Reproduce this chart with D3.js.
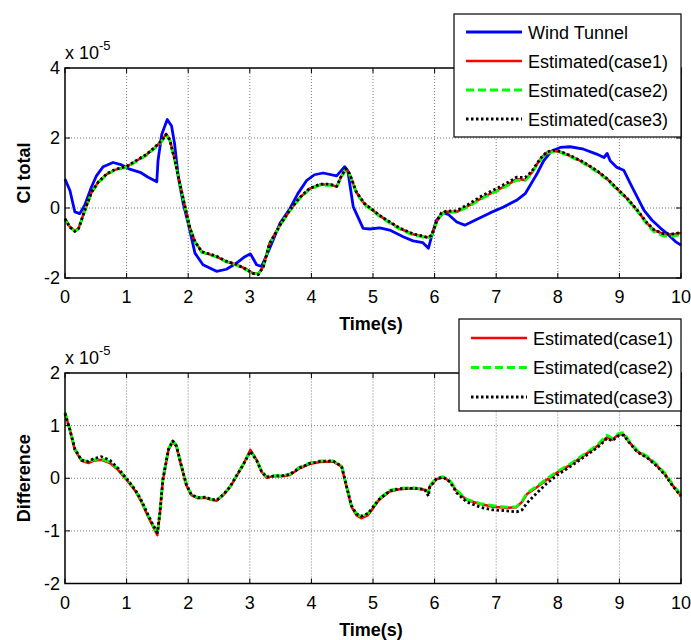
<!DOCTYPE html>
<html>
<head>
<meta charset="utf-8">
<script src="https://cdn.jsdelivr.net/npm/d3@7"></script>
<style>
body { margin: 0; background: #fff; }
text { font-family: "Liberation Sans", Arial, sans-serif; fill: #000; }
</style>
</head>
<body>
<svg id="chart" width="691" height="640"></svg>
<script>
// ---- data (values in units of 1e-5) ----
var xTicks = [0, 1, 2, 3, 4, 5, 6, 7, 8, 9, 10];
var topYTicks = [-2, 0, 2, 4];
var bottomYTicks = [-2, -1, 0, 1, 2];

var topLegendLabels = ["Wind Tunnel", "Estimated(case1)", "Estimated(case2)", "Estimated(case3)"];
var bottomLegendLabels = ["Estimated(case1)", "Estimated(case2)", "Estimated(case3)"];

var windTime = [0,0.08,0.16,0.24,0.32,0.43,0.51,0.62,0.78,0.92,1.05,1.22,1.35,1.49,1.51,1.57,1.66,1.73,1.78,1.84,
  1.92,2.0,2.11,2.24,2.46,2.62,2.78,2.92,3.01,3.11,3.19,3.3,3.49,3.65,3.78,3.92,4.05,4.19,4.41,4.54,
  4.59,4.68,4.84,4.95,5.11,5.27,5.49,5.65,5.81,5.9,5.95,6.03,6.14,6.22,6.36,6.49,6.68,6.9,7.12,7.33,
  7.47,7.55,7.66,7.77,7.9,8.04,8.2,8.42,8.63,8.75,8.8,8.85,8.96,9.07,9.18,9.29,9.4,9.53,9.67,9.8,9.91,10];
var windTunnel = [0.83,0.5,-0.11,-0.16,0.08,0.6,0.92,1.18,1.3,1.23,1.11,1.02,0.88,0.75,1.35,2.1,2.53,2.34,1.82,0.88,
  0.12,-0.44,-1.29,-1.62,-1.81,-1.75,-1.58,-1.39,-1.31,-1.62,-1.67,-1.25,-0.44,-0.02,0.41,0.78,0.95,1.0,0.92,1.18,
  1.07,0.03,-0.58,-0.6,-0.57,-0.63,-0.82,-0.94,-0.99,-1.15,-0.82,-0.35,-0.14,-0.18,-0.4,-0.49,-0.33,-0.14,0.03,0.22,
  0.41,0.64,0.97,1.35,1.63,1.73,1.75,1.68,1.54,1.44,1.56,1.35,1.16,1.08,0.69,0.31,-0.07,-0.35,-0.58,-0.77,-0.96,-1.06];

var estTime = [0,0.08,0.16,0.22,0.32,0.43,0.54,0.68,0.81,1.0,1.16,1.32,1.46,1.57,1.64,1.7,1.78,1.86,1.95,2.03,
  2.11,2.22,2.32,2.46,2.62,2.78,2.95,3.05,3.14,3.22,3.32,3.49,3.65,3.81,3.97,4.14,4.3,4.41,4.49,4.56,
  4.62,4.73,4.86,5.0,5.1,5.22,5.43,5.65,5.87,5.95,6.03,6.11,6.19,6.36,6.57,6.79,7.01,7.23,7.33,7.47,
  7.58,7.66,7.74,7.82,7.93,8.04,8.2,8.42,8.64,8.8,8.96,9.13,9.29,9.45,9.56,9.72,9.89,10];
var estCase1 = [-0.3,-0.54,-0.65,-0.58,-0.07,0.45,0.74,0.97,1.09,1.18,1.35,1.52,1.73,1.92,2.12,1.96,1.4,0.74,0.03,-0.58,
  -0.96,-1.25,-1.31,-1.39,-1.53,-1.62,-1.75,-1.86,-1.88,-1.67,-1.01,-0.49,-0.07,0.29,0.55,0.67,0.67,0.61,0.92,1.11,
  0.97,0.45,0.12,-0.07,-0.21,-0.35,-0.58,-0.75,-0.84,-0.8,-0.4,-0.16,-0.11,-0.11,0.08,0.31,0.5,0.71,0.83,0.8,
  1.02,1.25,1.44,1.58,1.63,1.61,1.49,1.3,1.05,0.83,0.55,0.26,-0.07,-0.44,-0.63,-0.75,-0.75,-0.71];
var estCase2 = [-0.32,-0.56,-0.66,-0.6,-0.09,0.43,0.72,0.96,1.08,1.17,1.33,1.5,1.71,1.9,2.08,1.94,1.38,0.72,0.01,-0.6,
  -0.97,-1.26,-1.32,-1.4,-1.54,-1.63,-1.77,-1.87,-1.88,-1.68,-1.03,-0.5,-0.08,0.27,0.53,0.65,0.65,0.6,0.9,1.09,
  0.95,0.43,0.1,-0.09,-0.23,-0.37,-0.6,-0.77,-0.86,-0.82,-0.42,-0.18,-0.13,-0.12,0.06,0.29,0.48,0.69,0.8,0.78,
  1.0,1.23,1.42,1.56,1.61,1.59,1.47,1.28,1.03,0.81,0.53,0.24,-0.09,-0.47,-0.68,-0.8,-0.8,-0.76];
var estCase3 = [-0.31,-0.55,-0.67,-0.59,-0.07,0.45,0.74,0.98,1.1,1.19,1.36,1.53,1.74,1.93,2.1,1.95,1.39,0.73,0.02,-0.59,
  -0.96,-1.25,-1.3,-1.38,-1.52,-1.61,-1.76,-1.87,-1.9,-1.68,-1.02,-0.49,-0.06,0.3,0.56,0.68,0.68,0.62,0.93,1.12,
  0.98,0.46,0.13,-0.06,-0.2,-0.34,-0.57,-0.74,-0.83,-0.79,-0.39,-0.14,-0.09,-0.08,0.13,0.37,0.56,0.77,0.88,0.87,
  1.05,1.27,1.46,1.6,1.65,1.62,1.5,1.31,1.06,0.84,0.56,0.27,-0.06,-0.43,-0.62,-0.74,-0.74,-0.7];

var diffTime = [0,0.08,0.16,0.27,0.38,0.46,0.59,0.73,0.86,1.0,1.14,1.24,1.35,1.43,1.5,1.54,1.59,1.68,1.75,1.81,
  1.89,1.97,2.05,2.16,2.27,2.38,2.46,2.57,2.68,2.78,2.89,3.01,3.11,3.19,3.27,3.38,3.54,3.65,3.81,3.97,
  4.14,4.35,4.49,4.57,4.65,4.73,4.81,4.92,5.1,5.27,5.43,5.65,5.84,5.9,5.92,6.03,6.14,6.25,6.36,6.52,
  6.74,6.95,7.17,7.33,7.42,7.5,7.66,7.82,7.99,8.2,8.42,8.64,8.8,8.88,8.99,9.07,9.15,9.29,9.45,9.61,
  9.75,9.86,10];
var diffCase1 = [1.24,0.92,0.54,0.33,0.29,0.33,0.35,0.29,0.16,-0.03,-0.24,-0.45,-0.73,-0.92,-1.08,-0.67,-0.03,0.54,0.7,0.6,
  0.22,-0.13,-0.32,-0.38,-0.37,-0.41,-0.43,-0.32,-0.17,0.03,0.25,0.54,0.35,0.13,0.01,0.04,0.04,0.06,0.19,0.27,
  0.31,0.32,0.22,-0.16,-0.54,-0.7,-0.76,-0.7,-0.41,-0.25,-0.21,-0.19,-0.22,-0.26,-0.16,-0.02,0.02,-0.06,-0.25,-0.41,
  -0.49,-0.54,-0.56,-0.55,-0.45,-0.3,-0.17,-0.03,0.11,0.25,0.43,0.61,0.78,0.73,0.83,0.83,0.7,0.51,0.4,0.24,
  0.06,-0.13,-0.33];
var diffCase2 = [1.25,0.93,0.56,0.35,0.31,0.35,0.37,0.31,0.18,-0.01,-0.22,-0.43,-0.71,-0.9,-1.05,-0.65,-0.01,0.56,0.72,0.62,
  0.24,-0.11,-0.31,-0.37,-0.36,-0.4,-0.42,-0.31,-0.16,0.04,0.26,0.52,0.35,0.14,0.03,0.05,0.05,0.08,0.21,0.29,
  0.33,0.33,0.23,-0.14,-0.51,-0.67,-0.73,-0.67,-0.39,-0.23,-0.19,-0.18,-0.21,-0.27,-0.14,0.0,0.03,-0.05,-0.23,-0.4,
  -0.48,-0.52,-0.55,-0.54,-0.43,-0.28,-0.15,-0.01,0.13,0.27,0.45,0.63,0.82,0.76,0.85,0.87,0.72,0.53,0.42,0.26,
  0.08,-0.11,-0.31];
var diffCase3 = [1.23,0.92,0.55,0.34,0.32,0.37,0.41,0.34,0.19,-0.01,-0.22,-0.42,-0.7,-0.89,-1.03,-0.66,-0.02,0.55,0.71,0.61,
  0.23,-0.12,-0.31,-0.37,-0.36,-0.4,-0.42,-0.31,-0.16,0.04,0.25,0.51,0.34,0.13,0.02,0.04,0.05,0.07,0.2,0.28,
  0.32,0.33,0.23,-0.15,-0.52,-0.68,-0.72,-0.67,-0.4,-0.24,-0.2,-0.19,-0.21,-0.34,-0.17,-0.01,0.02,-0.07,-0.28,-0.45,
  -0.55,-0.6,-0.62,-0.64,-0.6,-0.47,-0.28,-0.1,0.06,0.22,0.4,0.58,0.76,0.71,0.81,0.82,0.69,0.5,0.39,0.23,
  0.05,-0.14,-0.34];

// ---- drawing ----
var svg = d3.select("#chart");

function zip(ts, vs)
{
	return ts.map(function(t, i) { return [t, vs[i]]; });
}

function seriesStyle(sel, kind)
{
	if (kind === "wind")
		sel.attr("stroke", "#0000ff").attr("stroke-width", 2.8);
	else if (kind === "case1")
		sel.attr("stroke", "#ff0000").attr("stroke-width", 2.5);
	else if (kind === "case2")
		sel.attr("stroke", "#00ff00").attr("stroke-width", 2.8).attr("stroke-dasharray", "8,4");
	else
		sel.attr("stroke", "#000000").attr("stroke-width", 2.8).attr("stroke-dasharray", "2.5,2.5");
	return sel;
}

function drawPanel(opt)
{
	var x = d3.scaleLinear().domain([0, 10]).range([65, 681]);
	var y = d3.scaleLinear().domain(opt.yDomain).range(opt.yRange);
	var g = svg.append("g");

	var x0 = x.range()[0], x1 = x.range()[1];
	var yb = y.range()[0], yt = y.range()[1];

	// grid
	g.append("g").selectAll("line")
	.data(xTicks.slice(1, -1))
	.enter().append("line")
	.attr("x1", function(d) { return x(d); })
	.attr("x2", function(d) { return x(d); })
	.attr("y1", yb).attr("y2", yt)
	.attr("stroke", "#7a7a7a").attr("stroke-width", 1)
	.attr("stroke-dasharray", "1,2");

	g.append("g").selectAll("line")
	.data(opt.yTicks.slice(1, -1))
	.enter().append("line")
	.attr("x1", x0).attr("x2", x1)
	.attr("y1", function(d) { return y(d); })
	.attr("y2", function(d) { return y(d); })
	.attr("stroke", "#7a7a7a").attr("stroke-width", 1)
	.attr("stroke-dasharray", "1,2");

	// series
	var line = d3.line()
	.x(function(d) { return x(d[0]); })
	.y(function(d) { return y(d[1]); });

	opt.series.forEach(function(s)
	{
		var p = g.append("path")
		.datum(s.points)
		.attr("fill", "none")
		.attr("stroke-linejoin", "round")
		.attr("d", line);
		seriesStyle(p, s.kind);
	});

	// box + inner ticks
	g.append("rect")
	.attr("x", x0).attr("y", yt)
	.attr("width", x1 - x0).attr("height", yb - yt)
	.attr("fill", "none").attr("stroke", "#000").attr("stroke-width", 1.5);

	var ticks = g.append("g").attr("stroke", "#000").attr("stroke-width", 1);
	xTicks.forEach(function(d)
	{
		ticks.append("line").attr("x1", x(d)).attr("x2", x(d)).attr("y1", yb).attr("y2", yb - 5);
		ticks.append("line").attr("x1", x(d)).attr("x2", x(d)).attr("y1", yt).attr("y2", yt + 5);
	});
	opt.yTicks.forEach(function(d)
	{
		ticks.append("line").attr("x1", x0).attr("x2", x0 + 5).attr("y1", y(d)).attr("y2", y(d));
		ticks.append("line").attr("x1", x1).attr("x2", x1 - 5).attr("y1", y(d)).attr("y2", y(d));
	});

	// tick labels
	g.selectAll("text.xt")
	.data(xTicks)
	.enter().append("text")
	.attr("x", function(d) { return x(d); })
	.attr("y", yb + 25)
	.attr("text-anchor", "middle")
	.style("font-size", "18px")
	.text(function(d) { return d; });

	g.selectAll("text.yt")
	.data(opt.yTicks)
	.enter().append("text")
	.attr("x", x0 - 5)
	.attr("y", function(d) { return y(d) + 6; })
	.attr("text-anchor", "end")
	.style("font-size", "18px")
	.text(function(d) { return d; });

	// exponent
	var ex = g.append("text")
	.attr("x", x0)
	.attr("y", yt - 9)
	.style("font-size", "18px");
	ex.append("tspan").text("x 10");
	ex.append("tspan").attr("dy", -9).style("font-size", "13px").text("-5");

	// axis titles
	g.append("text")
	.attr("x", 371)
	.attr("y", yb + 52)
	.attr("text-anchor", "middle")
	.style("font-size", "18px").style("font-weight", "bold")
	.text("Time(s)");

	g.append("text")
	.attr("transform", "translate(30," + ((yb + yt) / 2) + ") rotate(-90)")
	.attr("text-anchor", "middle")
	.style("font-size", "18px").style("font-weight", "bold")
	.text(opt.yLabel);

	// legend
	var lg = svg.append("g");
	lg.append("rect")
	.attr("x", opt.legend.x).attr("y", opt.legend.y)
	.attr("width", opt.legend.w).attr("height", opt.legend.h)
	.attr("fill", "#fff").attr("stroke", "#000").attr("stroke-width", 1.2);

	opt.legend.labels.forEach(function(label, i)
	{
		var cy = opt.legend.y + opt.legend.first + i * opt.legend.step;
		var l = lg.append("line")
		.attr("x1", opt.legend.x + 12).attr("x2", opt.legend.x + 68)
		.attr("y1", cy).attr("y2", cy);
		seriesStyle(l, opt.legend.kinds[i]);
		lg.append("text")
		.attr("x", opt.legend.x + 74)
		.attr("y", cy + 6.5)
		.style("font-size", "18px")
		.text(label);
	});
}

drawPanel({
	yDomain: [-2, 4],
	yRange: [278, 68],
	yTicks: topYTicks,
	yLabel: "Cl total",
	series: [
		{ kind: "wind", points: zip(windTime, windTunnel) },
		{ kind: "case1", points: zip(estTime, estCase1) },
		{ kind: "case2", points: zip(estTime, estCase2) },
		{ kind: "case3", points: zip(estTime, estCase3) }
	],
	legend: { x: 454, y: 14, w: 227, h: 123, first: 18, step: 29,
		labels: topLegendLabels, kinds: ["wind", "case1", "case2", "case3"] }
});

drawPanel({
	yDomain: [-2, 2],
	yRange: [583.5, 373],
	yTicks: bottomYTicks,
	yLabel: "Difference",
	series: [
		{ kind: "case1", points: zip(diffTime, diffCase1) },
		{ kind: "case2", points: zip(diffTime, diffCase2) },
		{ kind: "case3", points: zip(diffTime, diffCase3) }
	],
	legend: { x: 459, y: 319, w: 222, h: 92, first: 19, step: 29.5,
		labels: bottomLegendLabels, kinds: ["case1", "case2", "case3"] }
});
</script>
</body>
</html>
